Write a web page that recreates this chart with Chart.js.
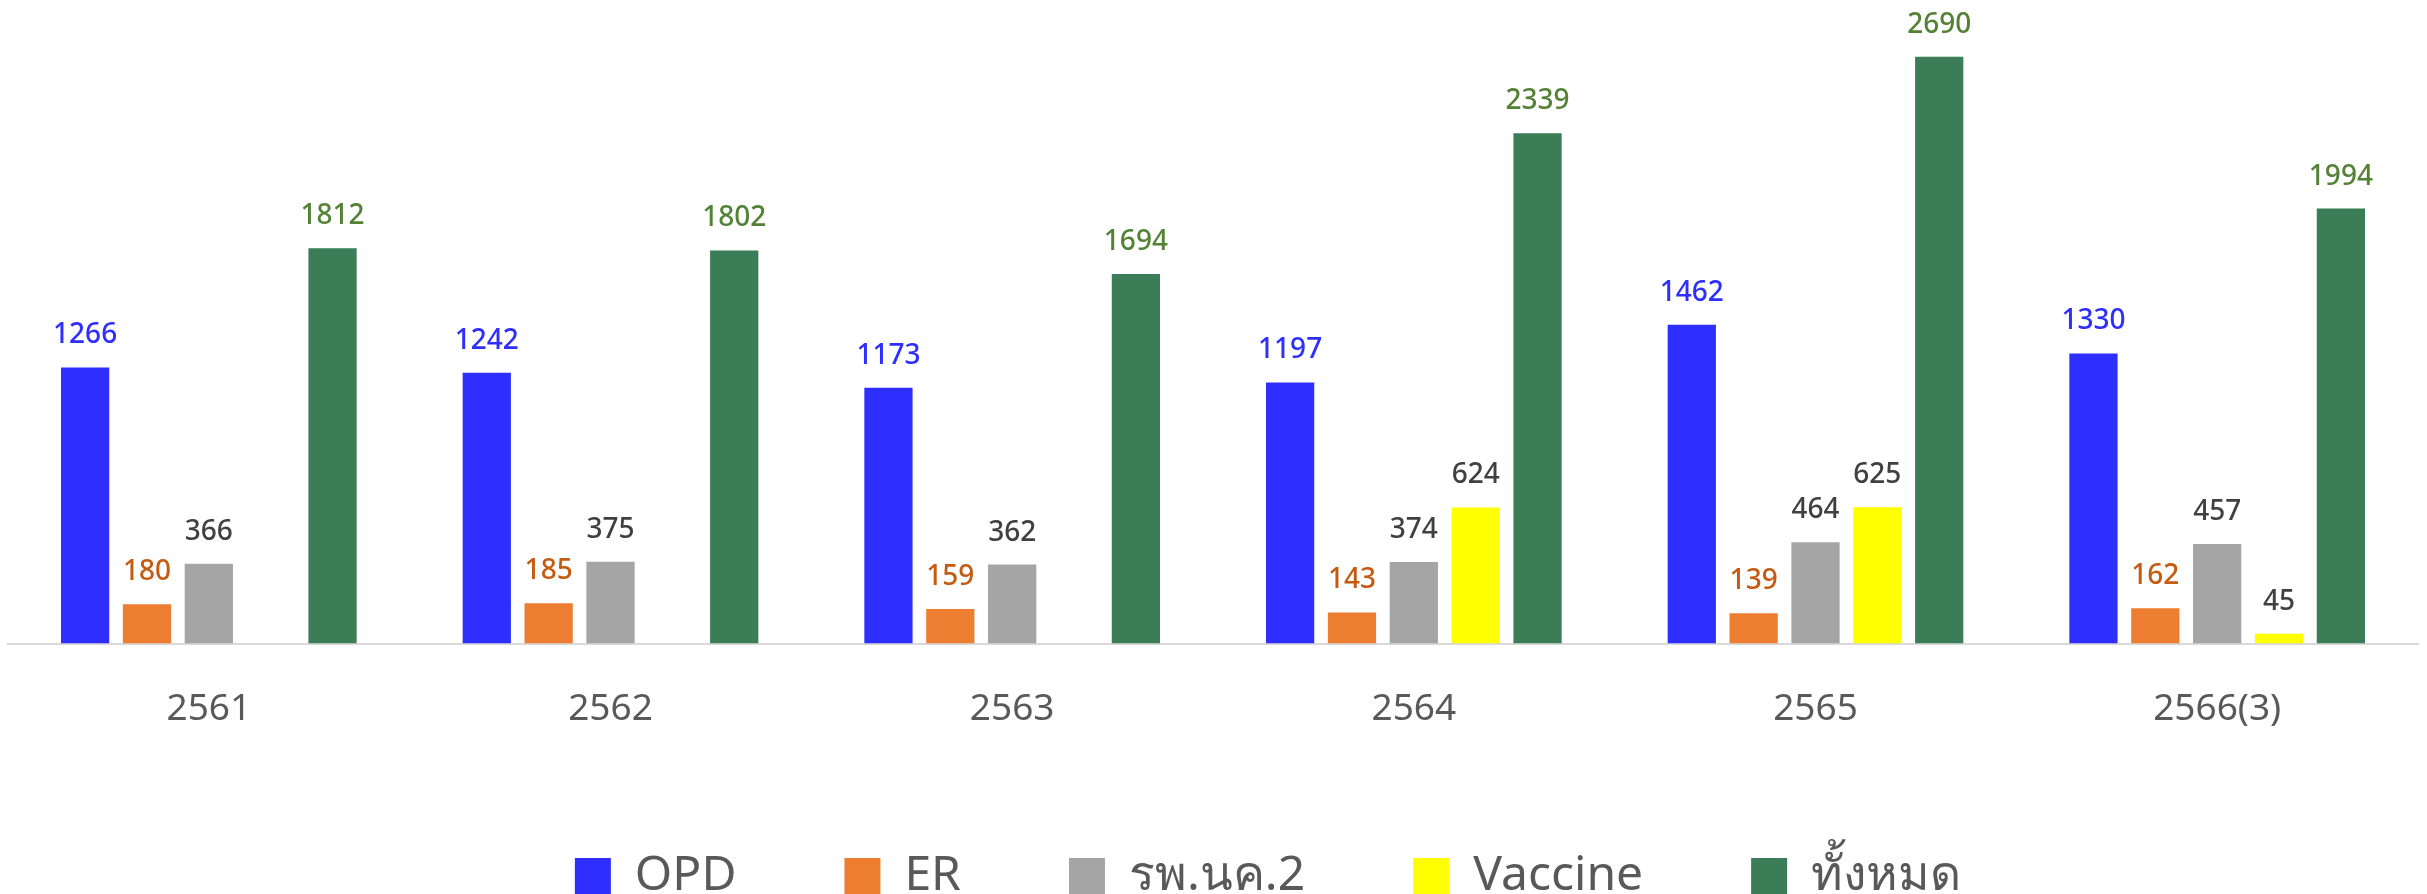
<!DOCTYPE html>
<html>
<head>
<meta charset="utf-8">
<script src="https://cdn.jsdelivr.net/npm/chart.js@4"></script>
<style>
  html, body { margin: 0; padding: 0; background: #fff; }
  #wrap { width: 2427px; height: 894px; position: relative; }
</style>
</head>
<body>
<div id="wrap"><canvas id="chart"></canvas></div>
<script>
// Data
const years = ['2561', '2562', '2563', '2564', '2565', '2566(3)'];
const opd = [1266, 1242, 1173, 1197, 1462, 1330];
const er = [180, 185, 159, 143, 139, 162];
const hospital2 = [366, 375, 362, 374, 464, 457];
const vaccine = [null, null, null, 624, 625, 45];
const total = [1812, 1802, 1694, 2339, 2690, 1994];

// draw value labels above each bar
const valueLabels = {
  id: 'valueLabels',
  afterDatasetsDraw(chart) {
    const ctx = chart.ctx;
    ctx.save();
    ctx.font = '500 28px "Noto Sans", sans-serif';
    ctx.textAlign = 'center';
    ctx.textBaseline = 'alphabetic';
    chart.data.datasets.forEach((ds, i) => {
      const meta = chart.getDatasetMeta(i);
      if (meta.hidden) return;
      ctx.fillStyle = ds.labelColor;
      meta.data.forEach((bar, j) => {
        const v = ds.data[j];
        if (v === null || v === undefined) return;
        ctx.fillText(String(v), bar.x, bar.y - 24);
      });
    });
    ctx.restore();
  }
};

// the legend in the original sits a little right of centre
const legendShift = {
  id: 'legendShift',
  afterLayout(chart) {
    if (chart.legend) {
      chart.legend.left += 67;
      chart.legend.right += 67;
    }
  }
};

const ctx = document.getElementById('chart').getContext('2d');
new Chart(ctx, {
  type: 'bar',
  data: {
    labels: years,
    datasets: [
      { label: 'OPD', data: opd, backgroundColor: '#2e2eff', labelColor: '#2e2eff' },
      { label: 'ER', data: er, backgroundColor: '#ed7d31', labelColor: '#c55a11' },
      { label: 'รพ.นค.2', data: hospital2, backgroundColor: '#a5a5a5', labelColor: '#404040' },
      { label: 'Vaccine', data: vaccine, backgroundColor: '#ffff00', labelColor: '#404040' },
      { label: 'ทั้งหมด', data: total, backgroundColor: '#3a7d57', labelColor: '#548235' }
    ]
  },
  options: {
    responsive: true,
    maintainAspectRatio: false,
    animation: false,
    categoryPercentage: 0.77,
    barPercentage: 0.78,
    layout: { padding: { left: 8, right: 9, top: 0, bottom: -16 } },
    scales: {
      x: {
        grid: { display: false },
        border: { display: true, color: '#d9d9d9', width: 2 },
        ticks: { color: '#595959', font: { family: '"Noto Sans", sans-serif', size: 37 }, padding: 36 }
      },
      y: {
        display: false,
        min: 0,
        max: 2950
      }
    },
    plugins: {
      legend: {
        position: 'bottom',
        labels: {
          color: '#595959',
          font: { family: '"Noto Sans", sans-serif', size: 48 },
          boxWidth: 36,
          boxHeight: 36,
          padding: 84,
          generateLabels(chart) {
            const items = Chart.defaults.plugins.legend.labels.generateLabels(chart);
            items.forEach(it => { it.text = it.text + '\u2002'; it.lineWidth = 0; });
            return items;
          }
        }
      },
      tooltip: { enabled: false }
    }
  },
  plugins: [valueLabels, legendShift]
});
</script>
</body>
</html>
